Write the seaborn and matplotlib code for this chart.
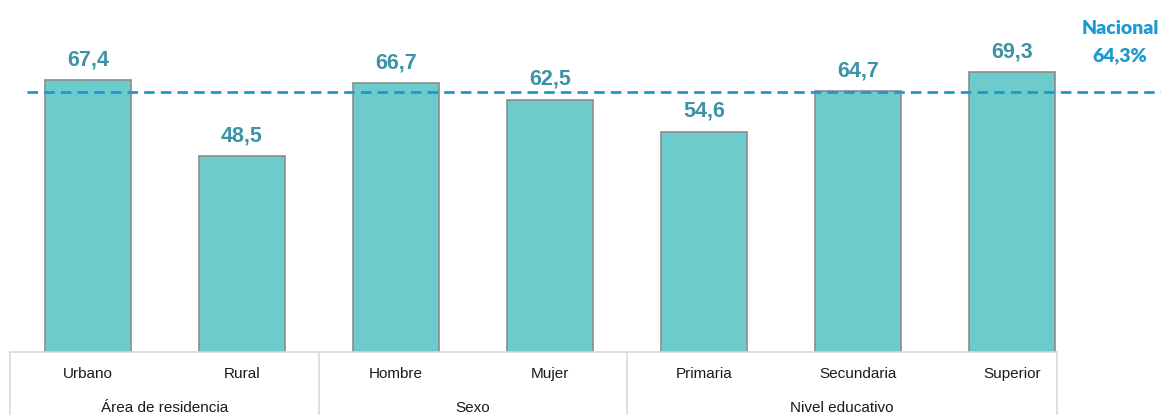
import pandas as pd
import matplotlib
matplotlib.use("Agg")
import matplotlib.pyplot as plt
import seaborn as sns

# datos
categorias = ["Urbano", "Rural", "Hombre", "Mujer", "Primaria", "Secundaria", "Superior"]
valores = [67.4, 48.5, 66.7, 62.5, 54.6, 64.7, 69.3]
grupos = ["Área de residencia", "Área de residencia", "Sexo", "Sexo",
          "Nivel educativo", "Nivel educativo", "Nivel educativo"]
nacional = 64.3

df = pd.DataFrame({"categoria": categorias, "valor": valores, "grupo": grupos})

sns.set_style("white")
plt.rcParams["font.family"] = ["Liberation Sans", "DejaVu Sans"]

fig = plt.figure(figsize=(11.61, 4.15), dpi=100)
ax = fig.add_axes([10 / 1161, 63 / 415, 1151 / 1161, 352 / 415])

sns.barplot(data=df, x="categoria", y="valor", order=categorias, color="#6ecbcb",
            saturation=1, width=0.56, edgecolor="#8c8c8c", linewidth=1.2, ax=ax)

ax.set_xlim(-0.506, 6.968)
ax.set_ylim(0, 87.2)
for s in ax.spines.values():
    s.set_visible(False)
ax.set_yticks([])
ax.set_xlabel("")
ax.set_ylabel("")
ax.tick_params(axis="x", length=0, pad=11, labelsize=11, labelcolor="#1a1a1a")

# etiquetas de valor
ax.bar_label(ax.containers[0], labels=[f"{v:.1f}".replace(".", ",") for v in valores],
             padding=7, fontsize=15.5, fontweight="bold", color="#3c93a5")

# línea nacional
ax.plot([-0.396, 6.968], [nacional, nacional], ls=(0, (3.8, 2.2)), lw=2.0,
        color="#1a9ad0", zorder=5)
tr = ax.get_xaxis_transform()
x_nac = (1120 - 88) / 154
ax.text(x_nac, 0.92, "Nacional", transform=tr,
        ha="center", va="center", fontsize=14, fontweight="heavy", color="#1a9ad0",
        family=["Lato", "DejaVu Sans"])
ax.text(x_nac, 0.843, f"{nacional:.1f}%".replace(".", ","),
        transform=tr, ha="center", va="center", fontsize=14,
        fontweight="heavy", color="#1a9ad0", family=["Lato", "DejaVu Sans"])

# tabla de categorías
borde_izq, borde_der = -0.506, 6.29
ax.plot([borde_izq, borde_der], [0, 0], transform=tr, color="#d9d9d9", lw=1.2, clip_on=False)
for xs in [borde_izq, 1.5, 3.5, borde_der]:
    ax.plot([xs, xs], [0, -0.2], transform=tr, color="#d9d9d9", lw=1.2, clip_on=False)

centros = {"Área de residencia": (borde_izq + 1.5) / 2, "Sexo": 2.5,
           "Nivel educativo": (3.5 + borde_der) / 2}
for g, cx in centros.items():
    ax.text(cx, -0.16, g, transform=tr, ha="center", va="center",
            fontsize=11, color="#1a1a1a")

fig.savefig("out.png", dpi=100)
